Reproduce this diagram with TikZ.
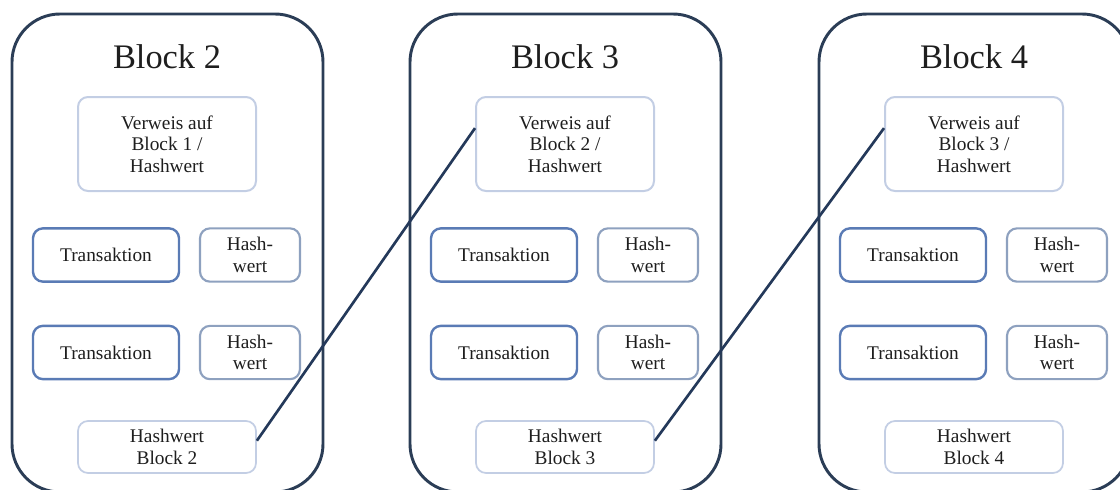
\documentclass[tikz,border=0pt]{standalone}
\usepackage{fontspec}
\setmainfont{Liberation Serif}
\definecolor{outerc}{HTML}{2B3D56}
\definecolor{transc}{HTML}{5A7BB5}
\definecolor{hashc}{HTML}{8EA1BF}
\definecolor{lightc}{HTML}{C3CEE4}
\definecolor{txt}{HTML}{1E1E1E}
\definecolor{linkc}{HTML}{24395A}
\tikzset{
  px/.style={x=0.75pt,y=-0.75pt},
  outerbox/.style={draw=outerc,line width=2.2pt,rounded corners=36pt,minimum width=233.25pt,minimum height=358.5pt,inner sep=0pt},
  titletxt/.style={text=txt,font=\fontsize{25.8}{30}\selectfont,anchor=base,inner sep=0pt},
  boxbase/.style={rounded corners=7.5pt,fill=white,inner sep=0pt,align=center,text=txt,font=\fontsize{14.5}{16.2}\selectfont},
  verweisbox/.style={boxbase,draw=lightc,line width=1.5pt,minimum width=133.5pt,minimum height=70.5pt},
  transbox/.style={boxbase,draw=transc,line width=1.8pt,minimum width=109.5pt,minimum height=40pt},
  hashbox/.style={boxbase,draw=hashc,line width=1.6pt,minimum width=75pt,minimum height=40pt},
  bottombox/.style={boxbase,draw=lightc,line width=1.3pt,minimum width=133.5pt,minimum height=39pt},
  link/.style={draw=linkc,line width=2pt}
}
\begin{document}
\begin{tikzpicture}[px]
\useasboundingbox (0,0) rectangle (1120,489);
\clip (0,0) rectangle (1120,489);
\foreach \n/\o/\p in {2/0/1,3/398/2,4/807/3}{
  \node[outerbox] (blk\n) at (167.5+\o,253) {};
  \node[titletxt] (title\n) at (167+\o,68) {Block \n};
  \node[verweisbox] (v\n) at (167+\o,144) {Verweis auf\\Block \p{} /\\Hashwert};
  \node[transbox] (ta\n) at (106+\o,255) {Transaktion};
  \node[hashbox] (ha\n) at (250+\o,255) {Hash-\\wert};
  \node[transbox] (tb\n) at (106+\o,352.5) {Transaktion};
  \node[hashbox] (hb\n) at (250+\o,352.5) {Hash-\\wert};
  \node[bottombox] (hw\n) at (167+\o,447) {Hashwert\\Block \n};
}
\draw[link] (hw2.4) -- (v3.170);
\draw[link] (hw3.4) -- (v4.170);
\end{tikzpicture}
\end{document}
